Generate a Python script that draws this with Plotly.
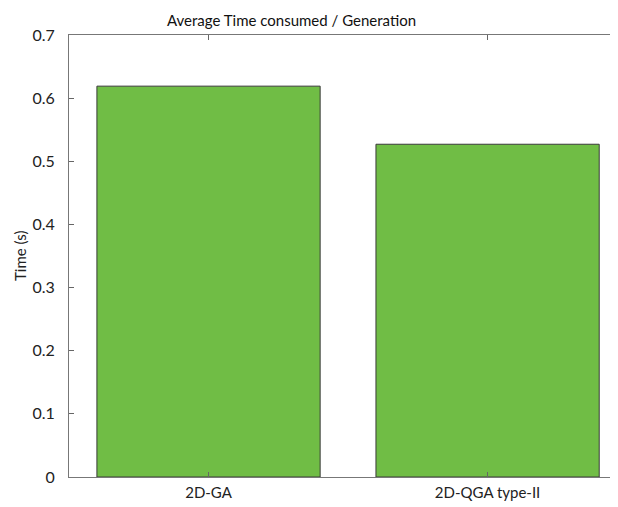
import plotly.graph_objects as go

categories = ["2D-GA", "2D-QGA type-II"]
times = [0.619, 0.527]
y_ticks = [0, 0.1, 0.2, 0.3, 0.4, 0.5, 0.6, 0.7]

W, H = 618, 507
fig = go.Figure()
fig.add_trace(go.Bar(
    x=[1, 2], y=times, width=0.8,
    marker=dict(color="#70bd45", line=dict(color="#3a3a3a", width=1)),
))
font = "Lato"
fig.update_layout(
    width=W, height=H,
    margin=dict(l=61, r=0, t=27, b=38),
    plot_bgcolor="white", paper_bgcolor="white",
    showlegend=False,
    font=dict(family=font, size=15, color="#222"),
    title=dict(text="Average Time consumed / Generation", x=283.5 / W, xanchor="center",
               xref="container", y=1 - 13 / H, yanchor="middle",
               font=dict(size=15, family=font, color="#111")),
    xaxis=dict(range=[0.5, 2.496], tickvals=[1, 2], ticktext=categories,
               ticks="inside", ticklen=5, tickcolor="#666", showline=True, linecolor="#777",
               linewidth=1, mirror="ticks", showgrid=False, zeroline=False,
               ticklabelstandoff=2, tickfont=dict(size=15)),
    yaxis=dict(range=[0, 0.7], tickvals=y_ticks, ticktext=[f"{v:g}" for v in y_ticks],
               ticks="inside", ticklen=5, tickcolor="#666", showline=True, linecolor="#777",
               linewidth=1, showgrid=False, zeroline=False,
               ticklabelstandoff=10, tickfont=dict(size=16)),
    annotations=[dict(text="Time (s)", xref="paper", yref="paper", x=-49 / (W - 61),
                      y=0.5, xanchor="center", yanchor="middle", textangle=-90,
                      showarrow=False, font=dict(size=15, family=font, color="#222"))],
)
fig.write_html("out.html")
